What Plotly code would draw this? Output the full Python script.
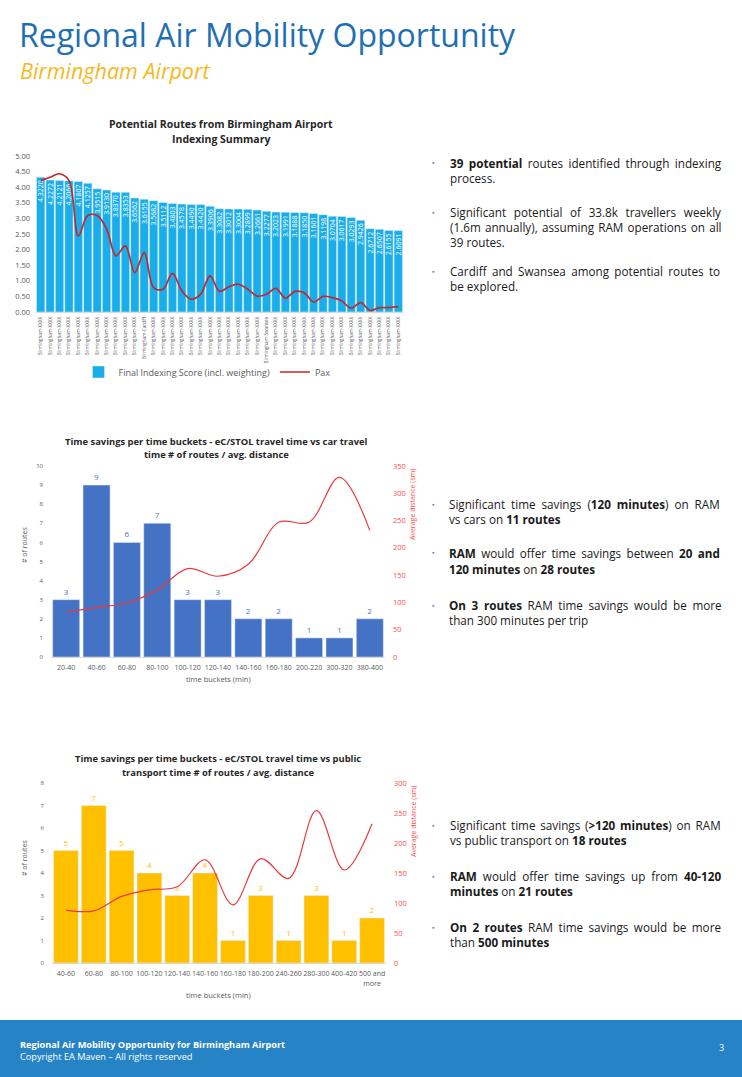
import plotly.graph_objects as go

W, H = 742, 1077
def px(x): return x / W
def py(y): return 1 - y / H

FONT = "Open Sans"
GREY = "#595959"
DARK = "#262626"

# ---------------- data ----------------
routes = ["Birmingham-XXXX"] * 39
routes[11] = "Birmingham-Cardiff"
routes[24] = "Birmingham-Swansea"
scores = [4.3220, 4.2272, 4.2121, 4.2066, 4.1807, 4.1257, 3.9515, 3.9130, 3.8370, 3.8353,
          3.6562, 3.6155, 3.5682, 3.5112, 3.4803, 3.4578, 3.4490, 3.4420, 3.3906, 3.3082,
          3.3012, 3.3004, 3.2899, 3.2661, 3.2277, 3.2023, 3.1991, 3.1888, 3.1850, 3.1601,
          3.1198, 3.0704, 3.0617, 3.0293, 2.9426, 2.6712, 2.6507, 2.6155, 2.6091]
pax = [4.21, 4.32, 4.43, 4.22, 2.44, 3.09, 3.09, 2.66, 1.80, 2.12,
       1.26, 1.90, 0.78, 0.73, 1.24, 0.68, 0.41, 0.57, 1.16, 0.66,
       0.81, 0.89, 0.73, 0.51, 0.57, 0.76, 0.44, 0.66, 0.62, 0.32,
       0.50, 0.46, 0.35, 0.12, 0.30, 0.05, 0.14, 0.14, 0.17]
route_idx = list(range(len(routes)))

car_buckets = ["20-40", "40-60", "60-80", "80-100", "100-120", "120-140", "140-160",
               "160-180", "200-220", "300-320", "380-400"]
car_routes = [3, 9, 6, 7, 3, 3, 2, 2, 1, 1, 2]
car_dist = [82, 91, 99, 123, 162, 148, 170, 247, 247, 329, 232]

pt_buckets = ["40-60", "60-80", "80-100", "100-120", "120-140", "140-160", "160-180",
              "180-200", "240-260", "280-300", "400-420", "500 and<br>more"]
pt_routes = [5, 7, 5, 4, 3, 4, 1, 3, 1, 3, 1, 2]
pt_dist = [88, 87, 111, 122, 127, 172, 97, 174, 141, 254, 155, 232]

fig = go.Figure()

# ---------------- chart 1 ----------------
fig.add_trace(go.Bar(
    x=route_idx, y=scores, name="Final Indexing Score (incl. weighting)",
    marker=dict(color="#19aeea"), texttemplate="%{y:.4f}", textposition="inside",
    insidetextanchor="end", textangle=-90, constraintext="none",
    textfont=dict(color="white", size=7, family=FONT),
    xaxis="x", yaxis="y"))
fig.add_trace(go.Scatter(
    x=route_idx, y=pax, name="Pax", mode="lines",
    line=dict(color="#c0282d", width=1.7, shape="spline", smoothing=1.0),
    xaxis="x", yaxis="y"))

# ---------------- chart 2 ----------------
fig.add_trace(go.Bar(
    x=car_buckets, y=car_routes, marker=dict(color="#4472c4"),
    text=car_routes, textposition="outside", cliponaxis=False,
    textfont=dict(color="#4472c4", size=8, family=FONT),
    showlegend=False, xaxis="x2", yaxis="y3"))
fig.add_trace(go.Scatter(
    x=car_buckets, y=car_dist, mode="lines",
    line=dict(color="#e8393d", width=1.2, shape="spline", smoothing=1.0),
    showlegend=False, xaxis="x2", yaxis="y4"))

# ---------------- chart 3 ----------------
fig.add_trace(go.Bar(
    x=pt_buckets, y=pt_routes, marker=dict(color="#ffc000"),
    text=pt_routes, textposition="outside", cliponaxis=False,
    textfont=dict(color="#ffc000", size=8, family=FONT),
    showlegend=False, xaxis="x3", yaxis="y5"))
fig.add_trace(go.Scatter(
    x=pt_buckets, y=pt_dist, mode="lines",
    line=dict(color="#e8393d", width=1.2, shape="spline", smoothing=1.0),
    showlegend=False, xaxis="x3", yaxis="y6"))

tick_small = dict(family=FONT, size=7, color=GREY)

layout = dict(
    width=W, height=H, autosize=False,
    margin=dict(l=0, r=0, t=0, b=0, pad=0, autoexpand=False),
    paper_bgcolor="white", plot_bgcolor="white",
    font=dict(family=FONT, color=GREY),
    bargap=0.11,
    barmode="group",
    # chart 1
    xaxis=dict(domain=[px(36), px(403)], range=[-0.5, 38.5], tickmode="array",
               tickvals=route_idx, ticktext=routes, tickangle=-90,
               tickfont=dict(family=FONT, size=4.6, color=GREY),
               showgrid=False, zeroline=False, showline=True, linecolor="#d9d9d9",
               ticks="", ticklabelstandoff=2, anchor="y", automargin=False),
    yaxis=dict(domain=[py(312), py(156)], range=[0, 5], dtick=0.5, tickformat=".2f",
               tickfont=dict(family=FONT, size=7.5, color=GREY), showgrid=False,
               zeroline=False, ticks="", ticklabelstandoff=5, anchor="x", automargin=False),
    # chart 2
    xaxis2=dict(domain=[px(51), px(385)], tickfont=tick_small, showgrid=False,
                showline=True, linecolor="#d9d9d9", ticks="", anchor="y3",
                tickangle=0, ticklabelstandoff=4, automargin=False),
    yaxis3=dict(domain=[py(657), py(466)], range=[0, 10], dtick=1,
                tickfont=dict(family=FONT, size=6, color=GREY), showgrid=False,
                zeroline=False, ticks="", ticklabelstandoff=7, anchor="x2", automargin=False),
    yaxis4=dict(domain=[py(657), py(466)], range=[0, 350], dtick=50, overlaying="y3",
                side="right", anchor="x2", automargin=False,
                tickfont=dict(family=FONT, size=7.5, color="#ff4b4b"), showgrid=False,
                zeroline=False, ticks="", ticklabelstandoff=7),
    # chart 3
    xaxis3=dict(domain=[px(52), px(386)], tickfont=tick_small, showgrid=False,
                showline=True, linecolor="#d9d9d9", ticks="", anchor="y5",
                tickangle=0, ticklabelstandoff=4, automargin=False),
    yaxis5=dict(domain=[py(963), py(783)], range=[0, 8], dtick=1,
                tickfont=dict(family=FONT, size=6, color=GREY), showgrid=False,
                zeroline=False, ticks="", ticklabelstandoff=7, anchor="x3", automargin=False),
    yaxis6=dict(domain=[py(963), py(783)], range=[0, 300], dtick=50, overlaying="y5",
                side="right", anchor="x3", automargin=False,
                tickfont=dict(family=FONT, size=7.5, color="#ff4b4b"), showgrid=False,
                zeroline=False, ticks="", ticklabelstandoff=7),
    legend=dict(orientation="h", x=px(207), xanchor="center", y=py(372),
                yanchor="middle", font=dict(family=FONT, size=9, color=GREY),
                bgcolor="rgba(0,0,0,0)", itemwidth=30, tracegroupgap=0),
)
fig.update_layout(**layout)

ann = []
def text(x, y, s, size, color=DARK, xanchor="left", angle=0, bold=False, italic=False,
         family=FONT, ws=0):
    if bold:
        s = "<b>" + s + "</b>"
    if italic:
        s = "<i>" + s + "</i>"
    if ws:
        s = '<span style="word-spacing:%.1fpx">' % ws + s + "</span>"
    ann.append(dict(x=px(x), y=py(y), xref="paper", yref="paper", text=s,
                    showarrow=False, xanchor=xanchor, yanchor="middle", textangle=angle,
                    borderpad=0,
                    font=dict(family=family, size=size, color=color)))

# header
text(18, 34, "Regional Air Mobility Opportunity", 32, color="#1f6fb4")
text(19, 70, "Birmingham Airport", 21.5, color="#f5b921", italic=True)

# chart titles
text(221, 124, "Potential Routes from Birmingham Airport", 10.5, xanchor="center", bold=True)
text(221, 139, "Indexing Summary", 10.5, xanchor="center", bold=True)
text(216, 441, "Time savings per time buckets - eC/STOL travel time vs car travel", 9.4,
     xanchor="center", bold=True)
text(216, 454, "time # of routes / avg. distance", 9.4, xanchor="center", bold=True)
text(218, 758, "Time savings per time buckets - eC/STOL travel time vs public", 9.4,
     xanchor="center", bold=True)
text(218, 772, "transport time # of routes / avg. distance", 9.4, xanchor="center", bold=True)

# axis titles
text(24, 545, "# of routes", 7, color=GREY, xanchor="center", angle=-90)
text(413, 505, "Average distance (sm)", 7, color="#ff4b4b", xanchor="center", angle=-90)
text(218, 679, "time buckets (min)", 7.5, color=GREY, xanchor="center")
text(24, 858, "# of routes", 7, color=GREY, xanchor="center", angle=-90)
text(413, 822, "Average distance (sm)", 7, color="#ff4b4b", xanchor="center", angle=-90)
text(218, 995, "time buckets (min)", 7.5, color=GREY, xanchor="center")

# bullet texts
BUL = "#5b8fc7"
def bullets(bx, tx, lines, bullet_ys, size=11.7):
    for by in bullet_ys:
        text(bx, by, "▪", 7, color=BUL, xanchor="center")
    for y, s, ws in lines:
        text(tx, y, s, size, color="#1a1a1a", ws=ws)

bullets(433, 449, [
    (163, "<b>39 potential</b> routes identified through indexing", 2.4),
    (178, "process.", 0),
    (212, "Significant potential of 33.8k travellers weekly", 4.6),
    (227, "(1.6m annually), assuming RAM operations on all", 1.2),
    (242, "39 routes.", 0),
    (271, "Cardiff and Swansea among potential routes to", 2.3),
    (286, "be explored.", 0),
], [163, 212, 271])

bullets(433, 448, [
    (504, "Significant time savings (<b>120 minutes</b>) on RAM", 2.9),
    (519, "vs cars on <b>11 routes</b>", 0),
    (553, "<b>RAM</b> would offer time savings between <b>20 and</b>", 2.3),
    (569, "<b>120 minutes</b> on <b>28 routes</b>", 0),
    (605, "<b>On 3 routes</b> RAM time savings would be more", 2.6),
    (620, "than 300 minutes per trip", 0),
], [504, 553, 605])

bullets(433, 449, [
    (825, "Significant time savings (<b>&gt;120 minutes</b>) on RAM", 1.8),
    (840, "vs public transport on <b>18 routes</b>", 0),
    (876, "<b>RAM</b> would offer time savings up from <b>40-120</b>", 3.0),
    (891, "<b>minutes</b> on <b>21 routes</b>", 0),
    (927, "<b>On 2 routes</b> RAM time savings would be more", 2.4),
    (942, "than <b>500 minutes</b>", 0),
], [825, 876, 927])

# footer
text(19, 1044, "<b>Regional Air Mobility Opportunity for Birmingham Airport</b>", 9.2, color="white")
text(19, 1056, "Copyright EA Maven \u2013 All rights reserved", 9.2, color="white")
text(721, 1047, "3", 9, color="white", xanchor="center")

fig.update_layout(annotations=ann)
fig.add_shape(type="rect", xref="paper", yref="paper", x0=0, x1=1, y0=0, y1=py(1020),
              fillcolor="#2683c6", line=dict(width=0), layer="below")

fig.write_html("out.html", config={"displayModeBar": False},
               post_script="document.body.style.margin='0';document.body.style.overflow='hidden';")
